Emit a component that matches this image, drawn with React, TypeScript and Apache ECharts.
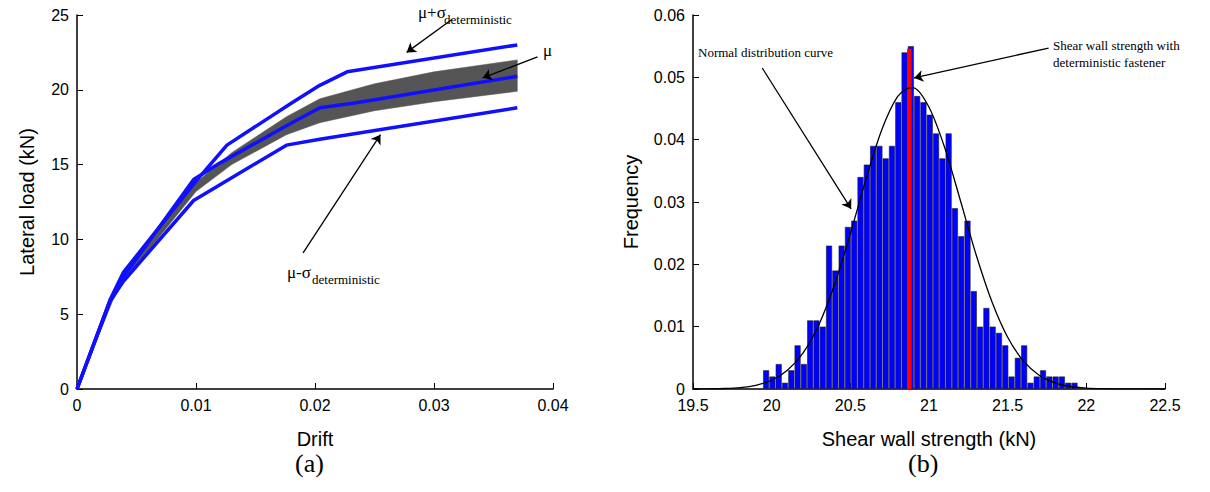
import React, { useEffect, useRef } from 'react';
import * as echarts from 'echarts';

// left panel: load-drift curves
const driftUpper = [0, 0.0028, 0.0039, 0.01, 0.0126, 0.018, 0.0204, 0.0227, 0.037];
const loadUpper = [0, 6.0, 7.8, 13.9, 16.3, 19.1, 20.3, 21.2, 23.0];
const driftMean = [0, 0.0028, 0.0039, 0.0098, 0.012, 0.0176, 0.0204, 0.0232, 0.037];
const loadMean = [0, 5.95, 7.5, 14.0, 15.1, 17.6, 18.8, 19.1, 20.9];
const driftLower = [0, 0.0028, 0.0039, 0.0098, 0.0176, 0.0204, 0.037];
const loadLower = [0, 5.9, 7.2, 12.6, 16.3, 16.7, 18.8];
const bandDrift = [0, 0.003, 0.004, 0.01, 0.013, 0.0176, 0.0204, 0.025, 0.03, 0.037];
const bandLow = [0, 5.9, 7.3, 13.2, 15.0, 17.0, 17.8, 18.6, 19.2, 19.9];
const bandHigh = [0, 6.1, 7.8, 13.8, 15.8, 18.2, 19.4, 20.4, 21.2, 22.0];

// right panel: histogram
const binStart = 19.96;
const binWidth = 0.04;
const freq = [
  0.003, 0.002, 0.004, 0.001, 0.003, 0.007, 0.004, 0.011, 0.011, 0.010,
  0.023, 0.019, 0.023, 0.026, 0.027, 0.034, 0.036, 0.039, 0.039, 0.037,
  0.039, 0.046, 0.054, 0.055, 0.047, 0.046, 0.044, 0.041, 0.037, 0.041,
  0.029, 0.0245, 0.027, 0.0157, 0.010, 0.013, 0.010, 0.009, 0.007, 0.002,
  0.005, 0.007, 0.001, 0.002, 0.003, 0.002, 0.002, 0.002, 0.001, 0.001,
];
const deterministicX = 20.875;
const deterministicFreq = 0.0546;
const curveX = [19.5, 19.6, 19.7, 19.8, 19.9, 20.0, 20.1, 20.2, 20.3, 20.4, 20.5, 20.6, 20.7, 20.8, 20.88, 20.9, 21.0, 21.1, 21.2, 21.3, 21.4, 21.5, 21.6, 21.7, 21.8, 21.9, 22.0, 22.1, 22.2, 22.5];
const curveY = [0, 0.00003, 0.00008, 0.00023, 0.0006, 0.0014, 0.003, 0.0058, 0.0103, 0.0168, 0.0249, 0.0337, 0.0416, 0.0469, 0.0483, 0.0483, 0.0452, 0.0387, 0.0302, 0.0215, 0.014, 0.0083, 0.0045, 0.0022, 0.001, 0.0004, 0.00015, 0.00005, 0.00002, 0];

const zip = (a: number[], b: number[]) => a.map((v, i) => [v, b[i]]);
const BLUE = '#1010ff';
const serif = '"Liberation Serif"';
const sans = 'Liberation Sans';

const axisCommon = {
  axisLine: { show: true, lineStyle: { color: '#000', width: 1.5 } },
  axisTick: { show: true, inside: true, length: 6, lineStyle: { color: '#000' } },
  axisLabel: { color: '#000', fontSize: 16, fontFamily: sans },
  splitLine: { show: false },
  nameTextStyle: { color: '#000', fontSize: 20, fontFamily: sans },
};

const arrow = (from: number[], to: number[]) => [
  { coord: from, symbol: 'none' },
  { coord: to, symbol: 'arrow' },
];

const label = (text: string, left: number, top: number, size: number) => ({
  type: 'text', left, top, style: { text, font: `${size}px ${serif}`, fill: '#000' },
});

const App: React.FC = () => {
  const ref = useRef<HTMLDivElement>(null);

  useEffect(() => {
    document.body.style.margin = '0';
    if (!ref.current) return;
    const chart = echarts.init(ref.current, undefined, { renderer: 'svg' });
    const arrowLine = { color: '#000', width: 1.3, type: 'solid' as const };
    chart.setOption({
      animation: false,
      grid: [
        { left: 77, right: 657, top: 15, bottom: 103 },
        { left: 693, right: 45, top: 15, bottom: 103 },
      ],
      xAxis: [
        { ...axisCommon, gridIndex: 0, type: 'value', min: 0, max: 0.04, interval: 0.01, name: 'Drift', nameLocation: 'middle', nameGap: 40 },
        { ...axisCommon, gridIndex: 1, type: 'value', min: 19.5, max: 22.5, interval: 0.5, name: 'Shear wall strength (kN)', nameLocation: 'middle', nameGap: 40 },
      ],
      yAxis: [
        { ...axisCommon, gridIndex: 0, type: 'value', min: 0, max: 25, interval: 5, name: 'Lateral load (kN)', nameLocation: 'middle', nameGap: 40 },
        { ...axisCommon, gridIndex: 1, type: 'value', min: 0, max: 0.06, interval: 0.01, name: 'Frequency', nameLocation: 'middle', nameGap: 52 },
      ],
      graphic: [
        label('(a)', 295, 450, 26),
        label('(b)', 908, 450, 26),
        label('μ+σ', 418, 4, 17),
        label('deterministic', 444, 13, 13),
        label('μ', 543, 42, 17),
        label('μ-σ', 287, 264, 17),
        label('deterministic', 312, 273, 13),
        label('Normal distribution curve', 698, 46, 13),
        { type: 'text', left: 1053, top: 37, style: { text: 'Shear wall strength with\ndeterministic fastener', font: `13px ${serif}`, fill: '#000', lineHeight: 17 } },
      ],
      series: [
        {
          type: 'custom', xAxisIndex: 0, yAxisIndex: 0, data: [[0, 0]], silent: true,
          renderItem: (_params: unknown, api: any) => {
            const top = bandDrift.map((x, i) => api.coord([x, bandHigh[i]]));
            const bottom = bandDrift.map((x, i) => api.coord([x, bandLow[i]])).reverse();
            return { type: 'polygon', shape: { points: top.concat(bottom) }, style: { fill: '#555', stroke: '#555', lineWidth: 0.5 } };
          },
        },
        {
          type: 'line', xAxisIndex: 0, yAxisIndex: 0, data: zip(driftUpper, loadUpper), symbol: 'none', lineStyle: { color: BLUE, width: 3.5 },
          markLine: {
            silent: true, symbolSize: 9, label: { show: false }, lineStyle: arrowLine,
            data: [arrow([0.0315, 24.7], [0.0277, 22.5]), arrow([0.0387, 22.2], [0.0341, 20.8]), arrow([0.019, 9.1], [0.0255, 17.0])],
          },
        },
        { type: 'line', xAxisIndex: 0, yAxisIndex: 0, data: zip(driftMean, loadMean), symbol: 'none', lineStyle: { color: BLUE, width: 3.5 } },
        { type: 'line', xAxisIndex: 0, yAxisIndex: 0, data: zip(driftLower, loadLower), symbol: 'none', lineStyle: { color: BLUE, width: 3.5 } },
        {
          type: 'bar', xAxisIndex: 1, yAxisIndex: 1, barWidth: 6, barGap: '-100%',
          data: freq.map((f, i) => [+(binStart + i * binWidth).toFixed(2), f]),
          itemStyle: { color: '#0000ff', borderColor: '#222', borderWidth: 0.6 },
        },
        {
          type: 'bar', xAxisIndex: 1, yAxisIndex: 1, barWidth: 4.5, barGap: '-100%',
          data: [[deterministicX, deterministicFreq]], itemStyle: { color: '#ff0000' },
        },
        {
          type: 'line', xAxisIndex: 1, yAxisIndex: 1, data: zip(curveX, curveY), symbol: 'none', smooth: 0.3,
          lineStyle: { color: '#000', width: 1.3 },
          markLine: {
            silent: true, symbolSize: 9, label: { show: false }, lineStyle: arrowLine,
            data: [arrow([19.94, 0.0515], [20.505, 0.0289]), arrow([21.76, 0.0547], [20.905, 0.0499])],
          },
        },
      ],
    });
    return () => chart.dispose();
  }, []);

  return <div ref={ref} style={{ width: 1210, height: 492 }} />;
};

export default App;
